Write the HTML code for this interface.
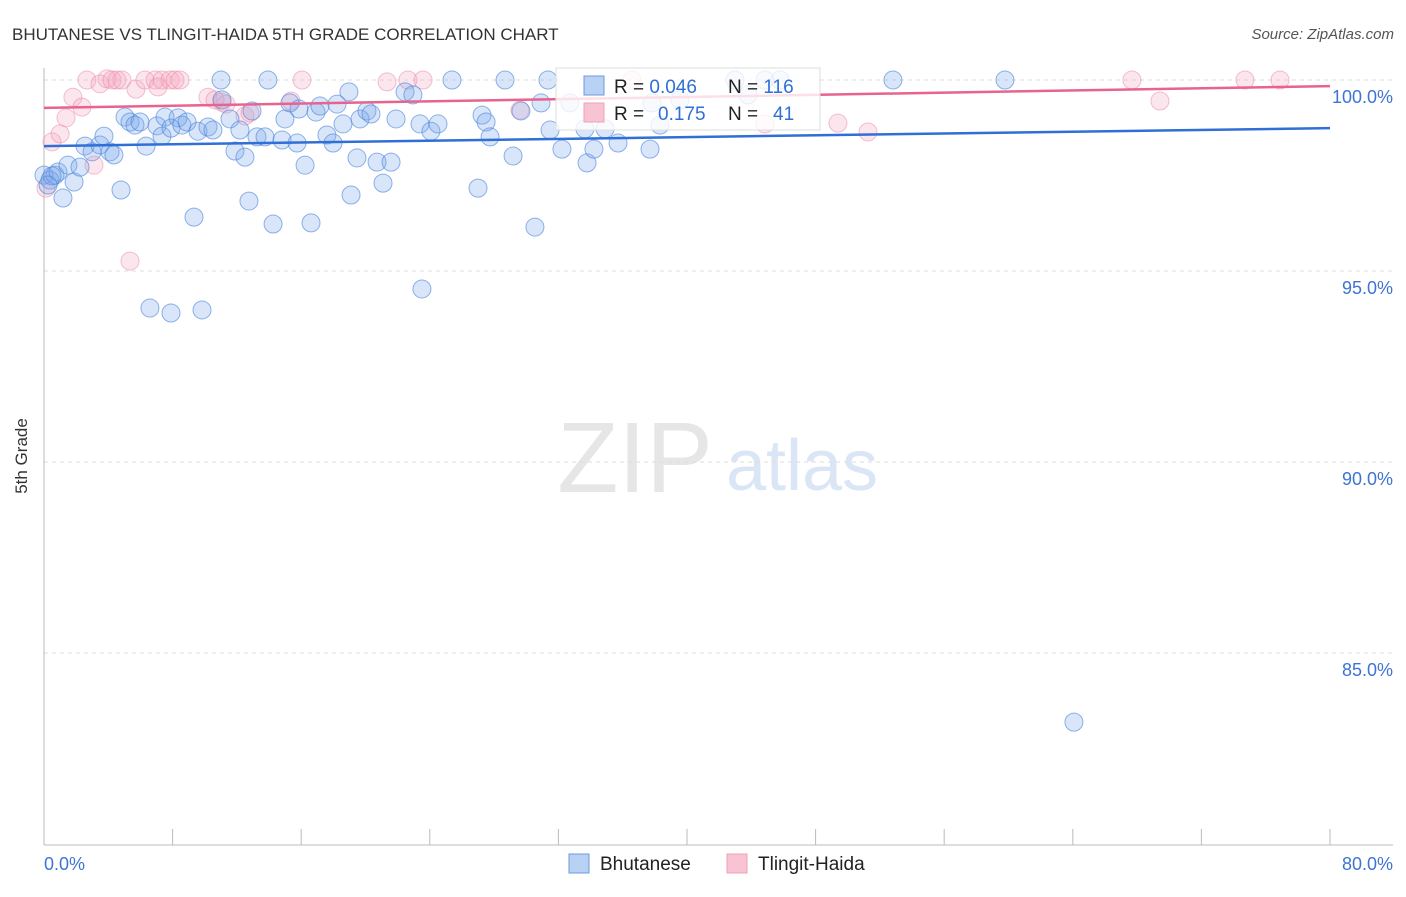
<!DOCTYPE html>
<html><head><meta charset="utf-8"><style>
body{margin:0;background:#fff;font-family:"Liberation Sans",sans-serif;}
svg text{font-family:"Liberation Sans",sans-serif;}
</style></head><body>
<svg id="chart" width="1406" height="892" xmlns="http://www.w3.org/2000/svg">
<text x="12" y="40" font-size="17" fill="#333">BHUTANESE VS TLINGIT-HAIDA 5TH GRADE CORRELATION CHART</text>
<text x="1394" y="39" font-size="15" fill="#555" font-style="italic" text-anchor="end">Source: ZipAtlas.com</text>
<g>
<text x="635" y="492" font-size="100" fill="#e6e6e6" font-family="Liberation Serif,serif" text-anchor="middle">ZIP</text>
<text x="802" y="490" font-size="72" fill="#dae6f6" text-anchor="middle">atlas</text>
</g>
<g id="grid"></g>
<g id="axes"></g>
<g id="pts"></g>
<g id="lines"></g>
<text x="27" y="456" font-size="17" fill="#333" text-anchor="middle" transform="rotate(-90 27 456)">5th Grade</text>
<g>
<rect x="556" y="68" width="264" height="62" fill="#fff" fill-opacity="0.8" stroke="#ddd"/>
<rect x="584" y="76" width="20" height="19" fill="#b9d1f3" stroke="#6a9be0"/>
<rect x="584" y="103" width="20" height="19" fill="#f8c3d2" stroke="#f0a0b8"/>
<text x="614" y="93" font-size="19" fill="#222">R = <tspan fill="#2f6fd6">0.046</tspan></text>
<text x="728" y="93" font-size="19" fill="#222">N = <tspan fill="#2f6fd6">116</tspan></text>
<text x="614" y="120" font-size="19" fill="#222">R = <tspan fill="#2f6fd6" x="658">0.175</tspan></text>
<text x="728" y="120" font-size="19" fill="#222">N = <tspan fill="#2f6fd6" x="773">41</tspan></text>
</g>
<g>
<rect x="569" y="854" width="20" height="19" fill="#b9d1f3" stroke="#6a9be0"/>
<text x="600" y="870" font-size="19" fill="#222">Bhutanese</text>
<rect x="727" y="854" width="20" height="19" fill="#f8c3d2" stroke="#f0a0b8"/>
<text x="758" y="870" font-size="19" fill="#222">Tlingit-Haida</text>
</g>
</svg>
<script>
const blueX=[0,0.37,0.68,0.87,1.18,1.49,1.87,2.24,2.55,2.99,3.48,3.73,4.11,4.35,4.79,5.04,5.35,5.66,5.97,6.35,7.03,7.34,7.53,7.90,8.34,8.58,8.90,9.33,9.58,10.20,10.51,11.01,11.07,11.57,11.88,12.19,12.50,12.75,12.94,13.25,13.75,13.93,14.25,14.81,14.99,15.30,15.74,15.86,16.24,16.61,16.92,17.17,17.60,17.98,18.23,18.60,18.97,19.10,19.47,19.66,20.09,20.34,20.72,21.09,21.59,21.90,22.46,22.95,23.39,23.51,24.07,24.51,25.38,27.00,27.25,27.50,27.75,28.68,29.18,29.67,30.54,30.92,31.35,31.48,32.22,32.72,33.65,33.78,34.21,34.90,35.71,37.70,38.32,37.82,39.56,42.99,43.79,44.85,45.79,52.81,59.78,64.07,6.59,7.90,9.83,0.50,0.25];
const blueY=[97.51,97.38,97.51,97.59,96.91,97.77,97.33,97.72,98.27,98.12,98.30,98.53,98.12,98.04,97.12,99.03,98.90,98.82,98.90,98.27,98.80,98.53,99.03,98.74,99.01,98.82,98.90,96.41,98.66,98.77,98.69,100,99.48,98.98,98.14,98.69,97.98,96.83,99.19,98.51,98.51,100,96.23,98.43,98.98,99.40,98.35,99.24,97.77,96.26,99.16,99.32,98.56,98.35,99.37,98.85,99.69,96.99,97.96,98.98,99.19,99.11,97.85,97.30,97.85,98.98,99.69,99.61,98.85,94.53,98.66,98.85,100,97.17,99.08,98.90,98.51,100,98.01,99.19,96.15,99.40,100,98.69,98.19,99.40,98.72,97.83,98.19,98.72,98.35,98.19,98.82,99.40,99.48,100,99.61,100,100,100,100,83.19,94.03,93.90,93.98,97.49,97.25];
const pinkX=[0.12,0.50,1.00,1.37,1.80,2.36,2.67,3.11,3.48,3.92,4.23,4.54,4.85,5.35,5.72,6.28,6.91,7.09,7.34,7.84,8.15,8.46,10.20,10.64,11.07,11.32,12.50,12.81,15.37,16.05,21.34,22.64,23.58,29.61,36.58,44.85,49.39,51.26,67.68,69.42,74.71,76.89];
const pinkY=[97.17,98.38,98.59,99.01,99.55,99.29,100,97.77,99.90,100.03,100,100,100,95.26,99.76,100,100,99.82,100,100,100,100,99.55,99.48,99.42,99.37,99.06,99.14,99.45,100,99.95,100,100,99.21,100,98.85,98.87,98.64,100,99.45,100,100];
const blueTrend=[98.27,98.74];
const pinkTrend=[99.27,99.84];
const yTicks=[100,95,90,85];
const yTickLabels=["100.0%","95.0%","90.0%","85.0%"];

const NS="http://www.w3.org/2000/svg";
const X=v=>44+v/80*1286;
const Y=v=>80+(100-v)*38.2;
function mk(tag,attrs,parent){const e=document.createElementNS(NS,tag);for(const k in attrs)e.setAttribute(k,attrs[k]);parent.appendChild(e);return e;}
const grid=document.getElementById('grid'),axes=document.getElementById('axes'),pts=document.getElementById('pts'),lines=document.getElementById('lines');
yTicks.forEach((t,i)=>{
  const l=mk('line',{x1:44,x2:1393,y1:Y(t),y2:Y(t),stroke:'#ddd','stroke-dasharray':'4 4'},grid);
  
  
  const tx=mk('text',{x:1393,y:Y(t)+23,'font-size':18,fill:'#3d74d4','text-anchor':'end'},axes);
  tx.textContent=yTickLabels[i];
  
  
});
const ya=mk('line',{x1:44,x2:44,y1:68,y2:845,stroke:'#bbb'},axes);


const xa=mk('line',{x1:44,x2:1393,y1:845,y2:845,stroke:'#bbb'},axes);


for(let v=0;v<=80;v+=8){
  const t=mk('line',{x1:X(v),x2:X(v),y1:829,y2:845,stroke:'#bbb'},axes);
  
  
}
const xl0=mk('text',{x:44,y:870,'font-size':18,fill:'#3d74d4'},axes);xl0.textContent="0.0%";


const xl1=mk('text',{x:1393,y:870,'font-size':18,fill:'#3d74d4','text-anchor':'end'},axes);xl1.textContent="80.0%";


function draw(xs,ys,fill,stroke,name){xs.forEach((x,i)=>{
  const c=mk('circle',{cx:X(x),cy:Y(ys[i]),r:9,fill:fill,stroke:stroke,'stroke-width':1},pts);
  
  
});}
draw(pinkX,pinkY,'rgba(245,165,190,0.28)','rgba(235,140,170,0.55)','tlingit-haida-point');
draw(blueX,blueY,'rgba(120,165,235,0.28)','rgba(70,130,220,0.6)','bhutanese-point');
const bl=mk('line',{x1:X(0),x2:X(80),y1:Y(blueTrend[0]),y2:Y(blueTrend[1]),stroke:'#2f6fd6','stroke-width':2.5},lines);


const pl=mk('line',{x1:X(0),x2:X(80),y1:Y(pinkTrend[0]),y2:Y(pinkTrend[1]),stroke:'#e8638e','stroke-width':2.5},lines);


</script>
</body></html>
